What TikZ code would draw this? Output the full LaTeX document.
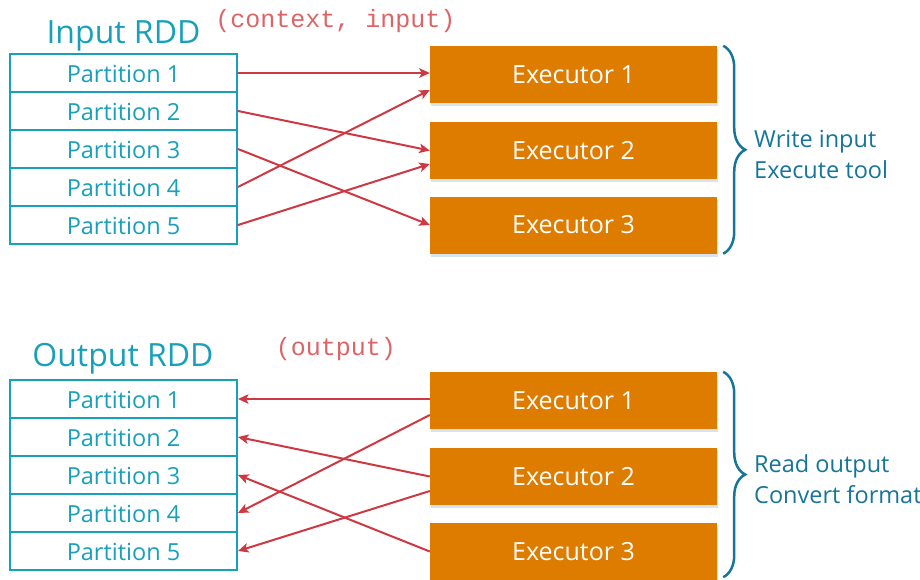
\documentclass[tikz,border=0pt]{standalone}
\usepackage{fontspec}
\setmainfont{Open Sans}
\setmonofont{Liberation Mono}
\usetikzlibrary{arrows.meta,decorations.pathreplacing,calc,shadows}

\definecolor{rddteal}{RGB}{24,160,186}
\definecolor{bracecol}{RGB}{22,117,152}
\definecolor{linkred}{RGB}{206,56,66}
\definecolor{execorange}{RGB}{222,124,0}
\definecolor{tuplered}{RGB}{220,100,102}
\definecolor{shadowblue}{RGB}{200,215,235}

\tikzset{
  part/.style={draw=rddteal, line width=2pt, text=rddteal, minimum width=227pt,
    minimum height=38pt, inner sep=0pt, text height=19.5pt, text depth=0pt,
    font=\fontsize{23.5}{28}\selectfont},
  execbox/.style={fill=execorange, text=white, minimum width=287pt, minimum height=57pt,
    inner sep=0pt, font=\fontsize{25}{30}\selectfont,
    general shadow={fill=shadowblue, shadow xshift=1pt, shadow yshift=-3pt, opacity=0.7}},
  link/.style={draw=linkred, line width=2pt, -{Stealth[length=10.5pt,width=9.5pt,inset=2.5pt]}},
  rddtitle/.style={anchor=base, text=rddteal, font=\fontsize{32}{38}\selectfont},
  tuple/.style={anchor=base, text=tuplered, font=\ttfamily\fontsize{25}{30}\selectfont},
  bracestyle/.style={draw=bracecol, line width=2.5pt,
    decorate, decoration={brace, amplitude=22pt}},
  note/.style={anchor=base west, text=bracecol, inner sep=0pt, font=\fontsize{23.5}{30}\selectfont}
}

\begin{document}
\begin{tikzpicture}[x=1pt, y=-1pt]
\useasboundingbox (0,0) rectangle (920,579);

% ---------- input side ----------
\node[rddtitle] (intitle) at (123.5,43) {Input RDD};
\node[tuple] (intuple) at (335.5,27) {(context, input)};

\foreach \i in {1,...,5}
  \node[part] (ip\i) at (123.5,{73+38*(\i-1)}) {Partition \i};

\node[execbox] (ie1) at (573.5,74.5) {Executor 1};
\node[execbox] (ie2) at (573.5,150.5) {Executor 2};
\node[execbox] (ie3) at (573.5,225) {Executor 3};

\draw[link] (ip1.east) -- (ip1.east -| ie1.west);
\draw[link] (ip2.east) -- (ie2.west);
\draw[link] (ip3.east) -- (ie3.west);
\draw[link] (ip4.east) -- ($(ie1.west)+(0,15.5)$);
\draw[link] (ip5.east) -- ($(ie2.west)+(0,13.5)$);

\coordinate (inbtop) at ($(ie1.north east)+(6,0)$);
\coordinate (inbbot) at ($(ie3.south east)+(6,0)$);
\draw[bracestyle] (inbtop) -- (inbbot);
\node[note] (inote1) at (754,147) {Write input};
\node[note] (inote2) at (754,178) {Execute tool};

% ---------- output side ----------
\node[rddtitle] (outtitle) at (123,366) {Output RDD};
\node[tuple] (outtuple) at (336,355) {(output)};

\foreach \i in {1,...,5}
  \node[part] (op\i) at (123.5,{399+38*(\i-1)}) {Partition \i};

\node[execbox] (oe1) at (573.5,400.5) {Executor 1};
\node[execbox] (oe2) at (573.5,476.5) {Executor 2};
\node[execbox] (oe3) at (573.5,551.5) {Executor 3};

\draw[link] (op1.east -| oe1.west) -- (op1.east);
\draw[link] ($(oe1.west)+(0,14.5)$) -- (op4.east);
\draw[link] (oe2.west) -- (op2.east);
\draw[link] ($(oe2.west)+(0,14.5)$) -- (op5.east);
\draw[link] (oe3.west) -- (op3.east);

\coordinate (outbtop) at ($(oe1.north east)+(6,0)$);
\coordinate (outbbot) at ($(oe3.south east)+(6,-3)$);
\draw[bracestyle] (outbtop) -- (outbbot);
\node[note] (onote1) at (754,472) {Read output};
\node[note] (onote2) at (754,503) {Convert format};
\end{tikzpicture}
\end{document}
